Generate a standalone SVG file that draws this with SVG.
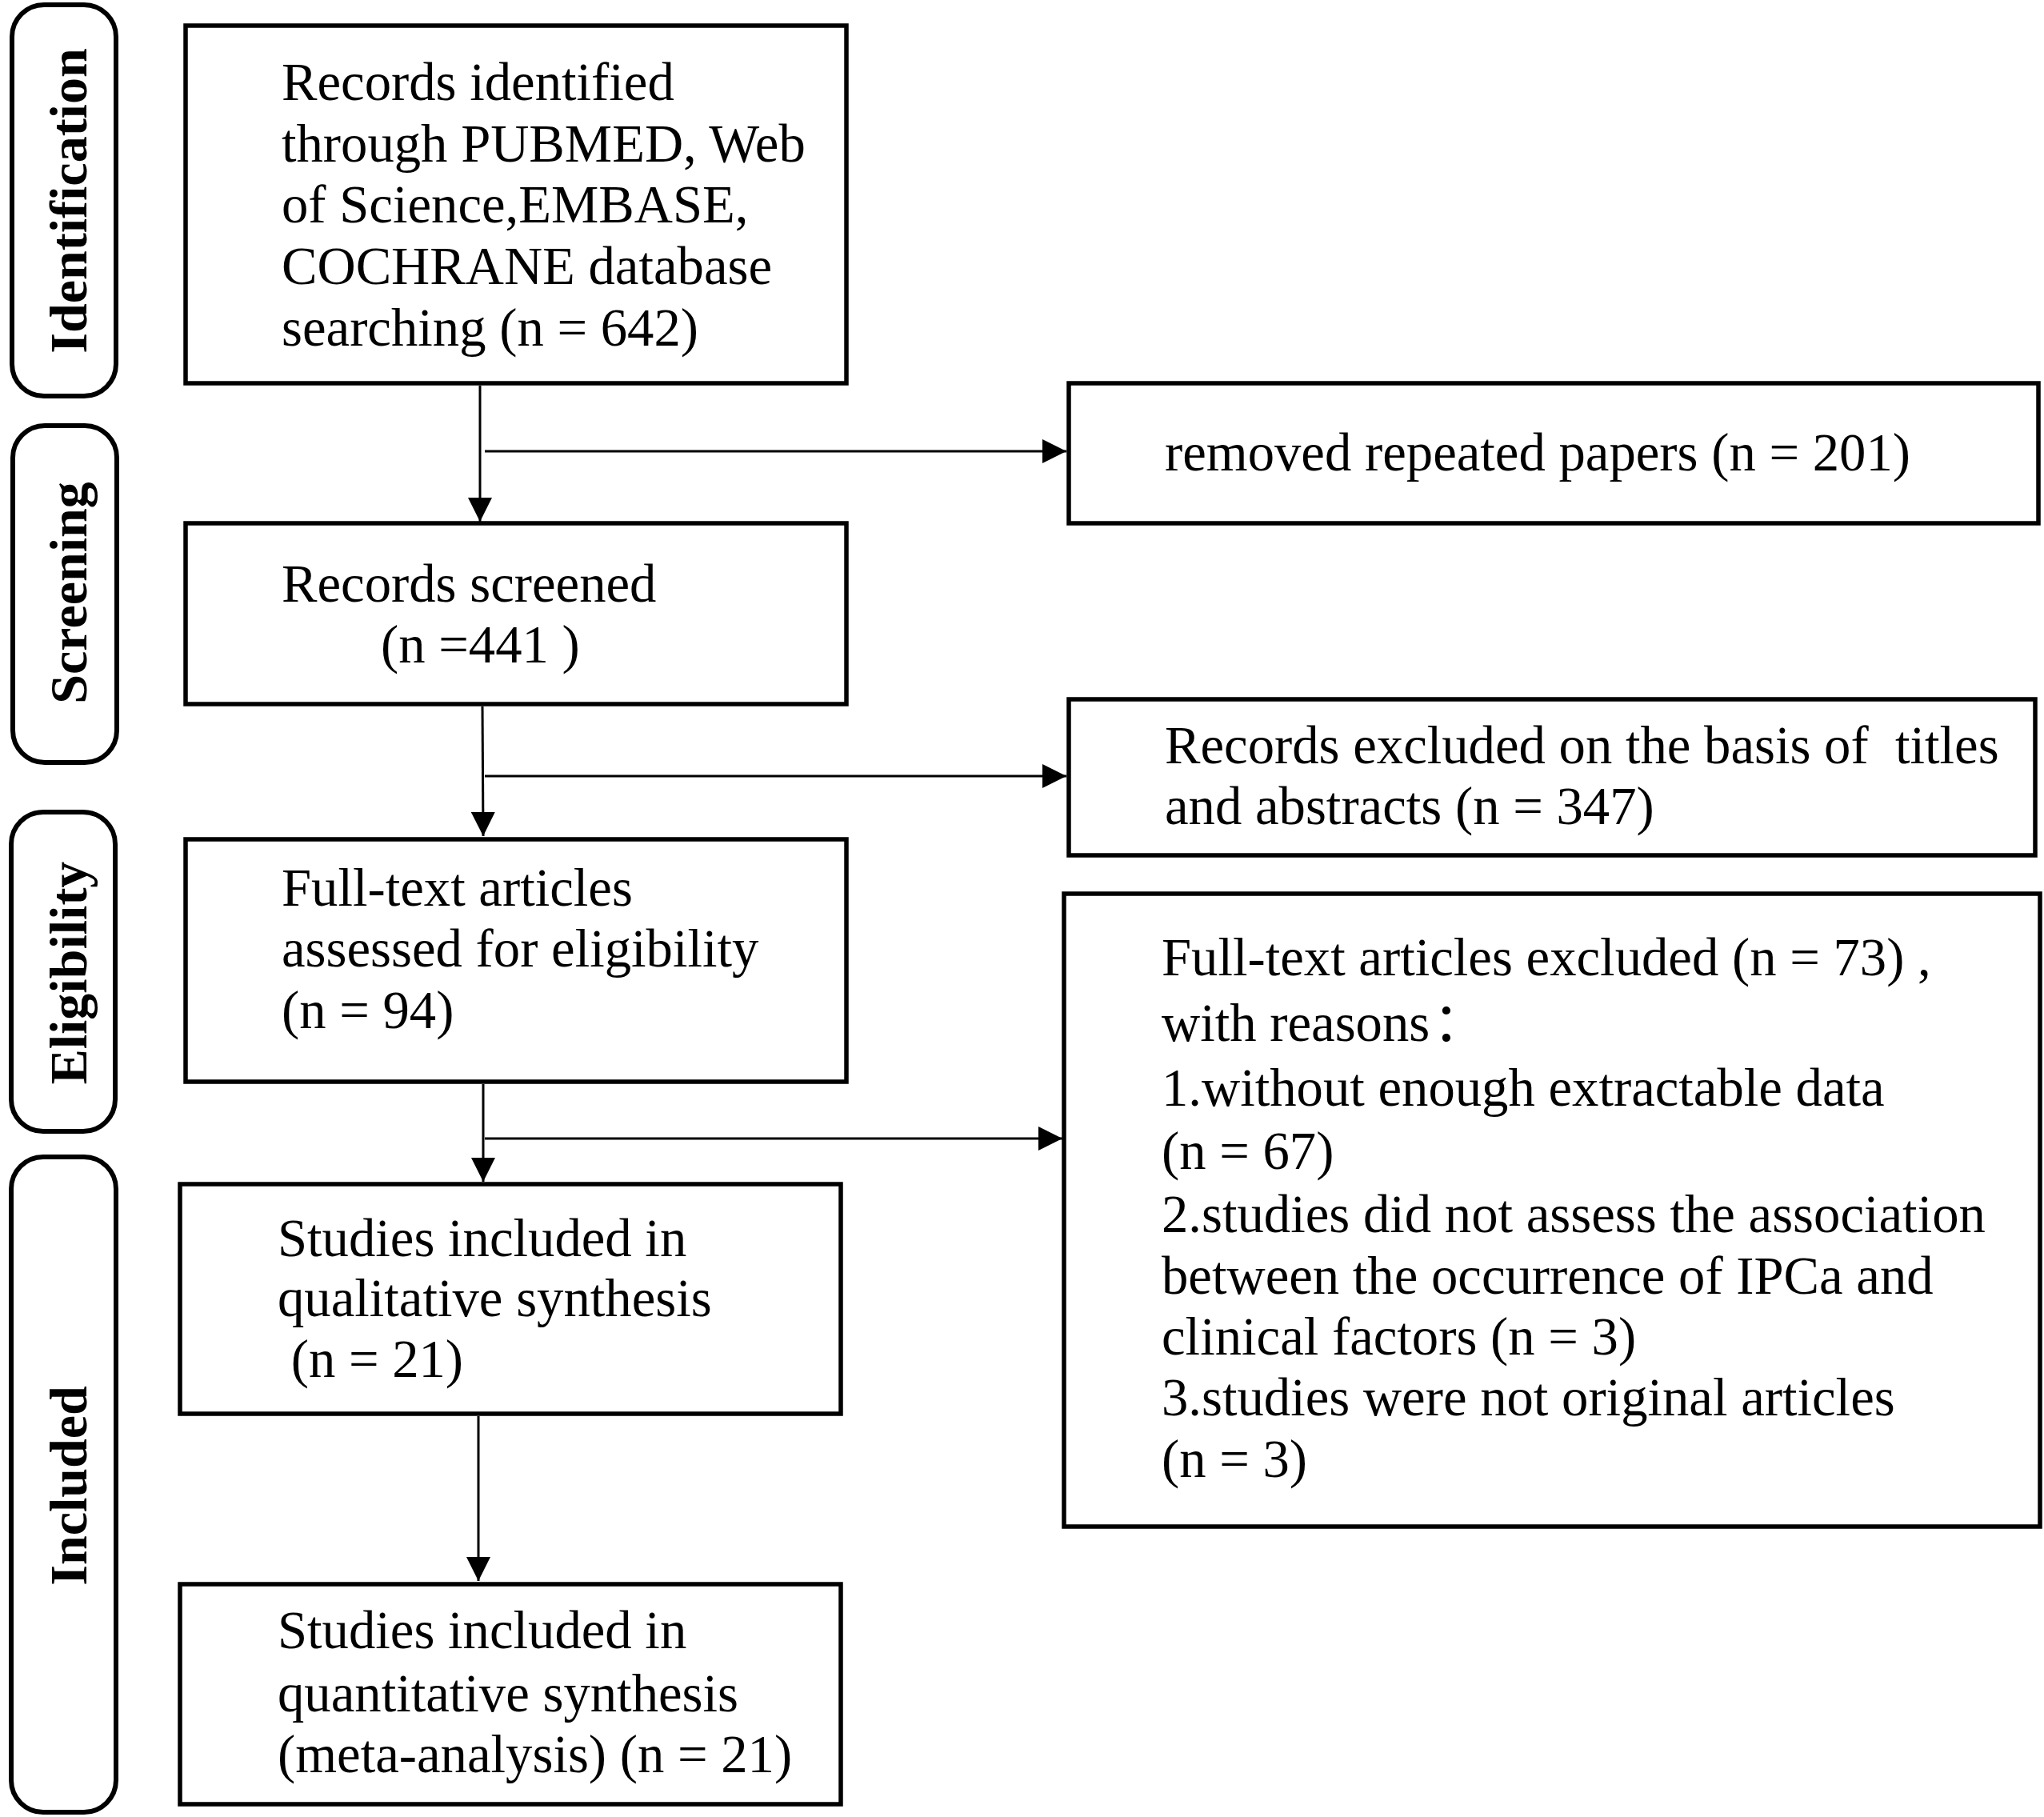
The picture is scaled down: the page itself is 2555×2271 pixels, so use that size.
<svg xmlns="http://www.w3.org/2000/svg" width="2555" height="2271" viewBox="0 0 2555 2271">
<defs>
<style>
.box{fill:#fff;stroke:#000;stroke-width:5.5}
.side{fill:#fff;stroke:#000;stroke-width:6}
.t{font-family:"Liberation Serif","Times New Roman","Noto Sans CJK SC",serif;font-size:66.7px;fill:#000;white-space:pre}
.s{font-family:"Liberation Serif","Times New Roman",serif;font-size:66px;font-weight:bold;fill:#000}
.c{stroke:#000;stroke-width:3;fill:none}
</style>
<marker id="ah" markerUnits="userSpaceOnUse" markerWidth="32" markerHeight="30" refX="30" refY="15" orient="auto" viewBox="0 0 32 30">
<path d="M0,0 L30,15 L0,30 z" fill="#000"/>
</marker>
</defs>
<rect width="2555" height="2271" fill="#fff"/>
<g id="side-identification"><rect class="side" x="15" y="6" width="130" height="489" rx="40"/><text class="s" transform="translate(108,251) rotate(-90)" text-anchor="middle">Identification</text></g>
<g id="side-screening"><rect class="side" x="16" y="532" width="130" height="421" rx="40"/><text class="s" transform="translate(108,741) rotate(-90)" text-anchor="middle">Screening</text></g>
<g id="side-eligibility"><rect class="side" x="14" y="1015" width="130" height="399" rx="40"/><text class="s" transform="translate(108,1216) rotate(-90)" text-anchor="middle">Eligibility</text></g>
<g id="side-included"><rect class="side" x="14" y="1446" width="131" height="819" rx="40"/><text class="s" transform="translate(108,1857) rotate(-90)" text-anchor="middle">Included</text></g>
<g id="connectors">
<line class="c" x1="600" y1="482" x2="600" y2="652" marker-end="url(#ah)"/>
<line class="c" x1="606" y1="564" x2="1333" y2="564" marker-end="url(#ah)"/>
<line class="c" x1="603" y1="883" x2="604" y2="1045" marker-end="url(#ah)"/>
<line class="c" x1="606" y1="970" x2="1333" y2="970" marker-end="url(#ah)"/>
<line class="c" x1="604" y1="1355" x2="604" y2="1477" marker-end="url(#ah)"/>
<line class="c" x1="606" y1="1423" x2="1328" y2="1423" marker-end="url(#ah)"/>
<line class="c" x1="598" y1="1770" x2="598" y2="1976" marker-end="url(#ah)"/>
</g>
<g id="records-identified"><rect class="box" x="232" y="32" width="826" height="447"/>
<text class="t" x="352" y="125">Records identified</text>
<text class="t" x="352" y="202">through PUBMED, Web</text>
<text class="t" x="352" y="278">of Science,EMBASE,</text>
<text class="t" x="352" y="355">COCHRANE database</text>
<text class="t" x="352" y="432">searching (n = 642)</text></g>
<g id="removed-repeated"><rect class="box" x="1336" y="479" width="1212" height="175"/>
<text class="t" x="1456" y="588">removed repeated papers (n = 201)</text></g>
<g id="records-screened"><rect class="box" x="232" y="654" width="826" height="226"/>
<text class="t" x="352" y="752">Records screened</text>
<text class="t" x="476" y="828">(n =441 )</text></g>
<g id="records-excluded"><rect class="box" x="1336" y="874" width="1208" height="195"/>
<text class="t" x="1456" y="954">Records excluded on the basis of  titles</text>
<text class="t" x="1456" y="1030">and abstracts (n = 347)</text></g>
<g id="full-text-assessed"><rect class="box" x="232" y="1049" width="826" height="303"/>
<text class="t" x="352" y="1132">Full-text articles</text>
<text class="t" x="352" y="1208">assessed for eligibility</text>
<text class="t" x="352" y="1285">(n = 94)</text></g>
<g id="full-text-excluded"><rect class="box" x="1330" y="1117" width="1220" height="791"/>
<text class="t" x="1452" y="1219">Full-text articles excluded (n = 73) ,</text>
<text class="t" x="1452" y="1301">with reasons<tspan dx="4">：</tspan></text>
<text class="t" x="1452" y="1382">1.without enough extractable data</text>
<text class="t" x="1452" y="1461">(n = 67)</text>
<text class="t" x="1452" y="1540">2.studies did not assess the association</text>
<text class="t" x="1452" y="1617">between the occurrence of IPCa and</text>
<text class="t" x="1452" y="1693">clinical factors (n = 3)</text>
<text class="t" x="1452" y="1769">3.studies were not original articles</text>
<text class="t" x="1452" y="1846">(n = 3)</text></g>
<g id="qualitative"><rect class="box" x="225" y="1480" width="826" height="287"/>
<text class="t" x="347" y="1570">Studies included in</text>
<text class="t" x="347" y="1645">qualitative synthesis</text>
<text class="t" x="347" y="1721"> (n = 21)</text></g>
<g id="quantitative"><rect class="box" x="225" y="1980" width="826" height="275"/>
<text class="t" x="347" y="2060">Studies included in</text>
<text class="t" x="347" y="2139">quantitative synthesis</text>
<text class="t" x="347" y="2215">(meta-analysis) (n = 21)</text></g>
</svg>
